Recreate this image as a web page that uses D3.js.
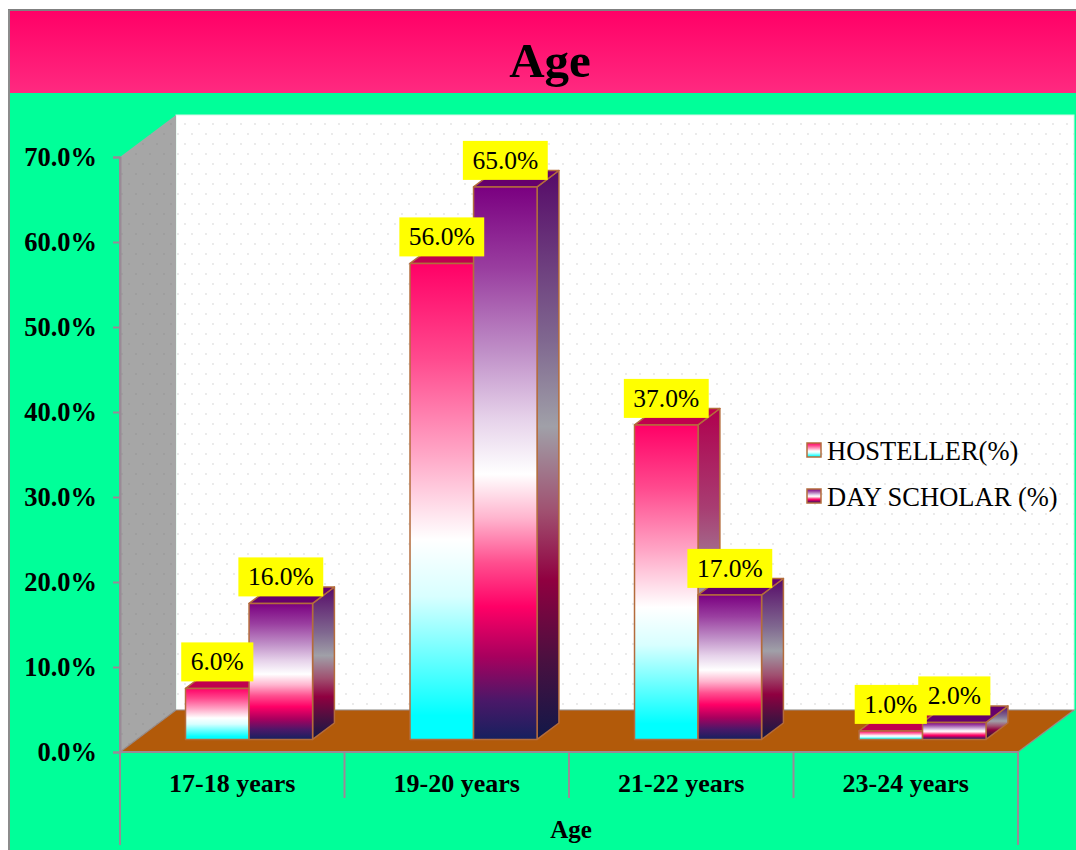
<!DOCTYPE html>
<html>
<head>
<meta charset="utf-8">
<script src="https://cdn.jsdelivr.net/npm/d3@7"></script>
<style>
  html, body { margin: 0; padding: 0; background: #ffffff; }
  svg { display: block; }
  text { font-family: "Liberation Serif", "Times New Roman", serif; }
</style>
</head>
<body>
<script>
// Age distribution of hostellers vs day scholars (percent of respondents)
const categories = ["17-18 years", "19-20 years", "21-22 years", "23-24 years"];
const hosteller = [6, 56, 37, 1];
const dayScholar = [16, 65, 17, 2];
const seriesNames = ["HOSTELLER(%)", "DAY SCHOLAR (%)"];
const yTicks = [0, 10, 20, 30, 40, 50, 60, 70];
const chartTitle = "Age";
const xAxisTitle = "Age";

const W = 1076, H = 850;
const svg = d3.select("body").append("svg").attr("width", W).attr("height", H);
const defs = svg.append("defs");

// depth vector of the 3D box (front plane -> back wall)
const DX = 56, DY = 42;

const x = d3.scaleBand().domain(categories).range([120, 1018]).padding(0);
const y = d3.scaleLinear().domain([0, 70]).range([752, 157]);

function grad(id, stops, horizontal) {
  const g = defs.append("linearGradient").attr("id", id)
    .attr("x1", 0).attr("y1", 0)
    .attr("x2", horizontal ? 1 : 0).attr("y2", horizontal ? 0 : 1);
  stops.forEach(([o, c]) => g.append("stop").attr("offset", o).attr("stop-color", c));
}

grad("titleBand", [[0, "#ff0066"], [1, "#ff2a80"]]);
grad("hostFront", [[0, "#ff0066"], [0.2, "#ff4a8e"], [0.4, "#ffa6c6"], [0.58, "#ffffff"],
  [0.7, "#d8ffff"], [0.82, "#70ffff"], [0.95, "#00ffff"], [1, "#00ffff"]]);
grad("hostSide", [[0, "#b0004e"], [0.3, "#a83d72"], [0.58, "#9e9aa6"], [0.85, "#30a0b0"], [1, "#00a8a8"]]);
grad("dsFront", [[0, "#7a0080"], [0.15, "#9a3fa0"], [0.3, "#c090c8"], [0.42, "#e6d2ea"],
  [0.52, "#ffffff"], [0.6, "#ffb4ce"], [0.68, "#ff4f8f"], [0.76, "#ff0066"],
  [0.85, "#a8005e"], [0.93, "#4a1868"], [1, "#16205e"]]);
grad("dsSide", [[0, "#560a68"], [0.3, "#806890"], [0.45, "#a0a0a8"], [0.6, "#a05070"],
  [0.72, "#900040"], [0.86, "#4a1040"], [1, "#101848"]]);

// faint dotted texture of the walls
function dots(id, bg, dot) {
  const p = defs.append("pattern").attr("id", id).attr("patternUnits", "userSpaceOnUse")
    .attr("width", 14).attr("height", 20);
  p.append("rect").attr("width", 14).attr("height", 20).attr("fill", bg);
  p.append("circle").attr("cx", 3).attr("cy", 4).attr("r", 0.9).attr("fill", dot);
  p.append("circle").attr("cx", 10).attr("cy", 14).attr("r", 0.9).attr("fill", dot);
}
dots("wallDots", "#ffffff", "#e2e2e2");
dots("sideDots", "#a6a6a6", "#9a9a9a");

// background + frame
svg.append("rect").attr("x", 8).attr("y", 10).attr("width", W - 8).attr("height", H - 10).attr("fill", "#00ff99");
svg.append("rect").attr("x", 8).attr("y", 10).attr("width", W - 8).attr("height", 83).attr("fill", "url(#titleBand)");
svg.append("line").attr("x1", 8).attr("x2", W).attr("y1", 10).attr("y2", 10).attr("stroke", "#808080").attr("stroke-width", 2);
svg.append("line").attr("x1", 9).attr("x2", 9).attr("y1", 10).attr("y2", H).attr("stroke", "#8c8c8c").attr("stroke-width", 2);

svg.append("text").attr("x", 550).attr("y", 77).attr("text-anchor", "middle")
  .attr("font-size", 49).attr("font-weight", "bold").attr("fill", "#000").text(chartTitle);

const x0 = x.range()[0], x1 = x.range()[1];
const pt = (px, py) => px + "," + py;

// back wall
svg.append("rect").attr("x", x0 + DX).attr("y", y(70) - DY)
  .attr("width", x1 - x0).attr("height", y(0) - y(70))
  .attr("fill", "url(#wallDots)").attr("stroke", "#d8f5e8").attr("stroke-width", 1);
// side wall
svg.append("polygon")
  .attr("points", [pt(x0, y(70)), pt(x0 + DX, y(70) - DY), pt(x0 + DX, y(0) - DY), pt(x0, y(0))].join(" "))
  .attr("fill", "url(#sideDots)");
// floor
svg.append("polygon")
  .attr("points", [pt(x0, y(0)), pt(x0 + DX, y(0) - DY), pt(x1 + DX, y(0) - DY), pt(x1, y(0))].join(" "))
  .attr("fill", "#b25a0a").attr("stroke", "#9a8a8a").attr("stroke-width", 1.2);

// category axis lines
const axisCol = "#9a8a96";
svg.append("line").attr("x1", x0).attr("x2", x1).attr("y1", y(0)).attr("y2", y(0)).attr("stroke", axisCol).attr("stroke-width", 2);
categories.forEach((c, i) => {
  if (i > 0) {
    svg.append("line").attr("x1", x(c)).attr("x2", x(c)).attr("y1", y(0)).attr("y2", 798)
      .attr("stroke", axisCol).attr("stroke-width", 2);
  }
});
[x0, x1].forEach(px => svg.append("line").attr("x1", px).attr("x2", px).attr("y1", y(0)).attr("y2", 845)
  .attr("stroke", axisCol).attr("stroke-width", 2));
categories.forEach(c => {
  svg.append("text").attr("x", x(c) + x.bandwidth() / 2).attr("y", 792).attr("text-anchor", "middle")
    .attr("font-size", 26).attr("font-weight", "bold").text(c);
});
svg.append("text").attr("x", (x0 + x1) / 2 + 2).attr("y", 838).attr("text-anchor", "middle")
  .attr("font-size", 25).attr("font-weight", "bold").text(xAxisTitle);

// value axis
const yAxis = svg.append("g").attr("transform", `translate(${x0},0)`)
  .call(d3.axisLeft(y).tickValues(yTicks).tickSize(7).tickPadding(16).tickFormat(d => d.toFixed(1) + "%"));
yAxis.select(".domain").attr("stroke", axisCol).attr("stroke-width", 2);
yAxis.selectAll(".tick line").attr("stroke", axisCol).attr("stroke-width", 2);
yAxis.selectAll(".tick text").attr("font-size", 26.5).attr("font-weight", "bold").attr("fill", "#000")
  .attr("font-family", "Liberation Serif, Times New Roman, serif");
svg.append("line").attr("x1", x0).attr("x2", x0).attr("y1", y(70)).attr("y2", y(0)).attr("stroke", axisCol).attr("stroke-width", 2);

// 3D bars
const z0 = 0.3, z1 = 0.69;
const barW = x.bandwidth() * 0.283;
const edge = "#b46c3c";
const series = [
  { values: hosteller, front: "url(#hostFront)", side: "url(#hostSide)", top: "#c0004e" },
  { values: dayScholar, front: "url(#dsFront)", side: "url(#dsSide)", top: "#66006c" }
];
const bars = svg.append("g");
const labels = [];
categories.forEach((c, ci) => {
  const start = x(c) + (x.bandwidth() - 2 * barW) / 2;
  series.forEach((s, si) => {
    const v = s.values[ci];
    const fx = start + si * barW + DX * z0;
    const fy0 = y(0) - DY * z0;
    const fy1 = y(v) - DY * z0;
    const dx = DX * (z1 - z0), dy = DY * (z1 - z0);
    const g = bars.append("g").attr("stroke", edge).attr("stroke-width", 1.5).attr("stroke-linejoin", "round");
    g.append("polygon").attr("points", [pt(fx + barW, fy1), pt(fx + barW + dx, fy1 - dy), pt(fx + barW + dx, fy0 - dy), pt(fx + barW, fy0)].join(" "))
      .attr("fill", s.side);
    g.append("polygon").attr("points", [pt(fx, fy1), pt(fx + dx, fy1 - dy), pt(fx + barW + dx, fy1 - dy), pt(fx + barW, fy1)].join(" "))
      .attr("fill", s.top);
    g.append("rect").attr("x", fx).attr("y", fy1).attr("width", barW).attr("height", fy0 - fy1).attr("fill", s.front);
    labels.push({ cx: fx + barW / 2, bottom: fy1 - 7, text: v.toFixed(1) + "%" });
  });
});

// value labels on yellow boxes
const lg = svg.append("g");
labels.forEach(l => {
  const g = lg.append("g");
  const r = g.append("rect").attr("fill", "#ffff00");
  const t = g.append("text").attr("x", l.cx).attr("y", l.bottom - 11).attr("text-anchor", "middle")
    .attr("font-size", 25.5).attr("fill", "#000").text(l.text);
  const tw = t.node().getComputedTextLength();
  r.attr("x", l.cx - tw / 2 - 9.5).attr("y", l.bottom - 39).attr("width", tw + 19).attr("height", 39);
});

// legend
const legend = svg.append("g");
[["url(#hostFront)", seriesNames[0], 443], ["url(#dsFront)", seriesNames[1], 489]].forEach(([fill, name, ly]) => {
  legend.append("rect").attr("x", 807).attr("y", ly).attr("width", 14).attr("height", 14)
    .attr("fill", fill).attr("stroke", edge).attr("stroke-width", 1.5);
  legend.append("text").attr("x", 827).attr("y", ly + 17).attr("font-size", 26.5).attr("fill", "#000").text(name);
});
</script>
</body>
</html>
